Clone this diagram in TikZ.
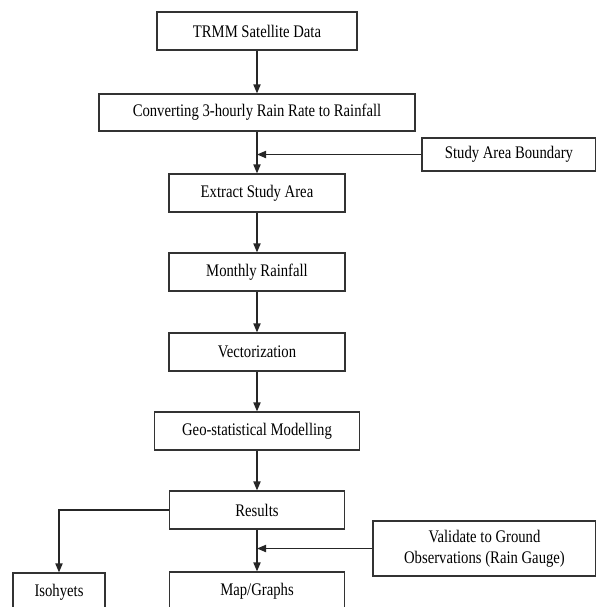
\documentclass[tikz,border=0pt]{standalone}
\usepackage{fontspec}
\setmainfont[FakeStretch=0.83]{Liberation Serif}
\usepackage{tikz}
\usetikzlibrary{arrows.meta, positioning, calc}
\tikzset{
  box/.style  = {draw=black!80, line width=0.6pt, align=center, inner sep=1pt,
                 minimum height=19pt, font=\fontsize{8.85}{10.5}\selectfont,
                 fill=white},
  sig/.style  = {-{Triangle[length=4.5pt, width=3.6pt]}, line width=0.65pt, draw=black!85},
}

\begin{document}
\begin{tikzpicture}[x=0.5pt, y=-0.5pt]
  \useasboundingbox (0,0) rectangle (596,607);
  \clip (0,0) rectangle (596,607);

  % main chain
  \node[box, minimum width=100pt] (trmm)  at (257,31)    {TRMM Satellite Data};
  \node[box, minimum width=158pt, minimum height=18.5pt] (conv) at (257,112.5)
        {Converting 3-hourly Rain Rate to Rainfall};
  \node[box, minimum width=88pt]  (ext)   at (257,193)   {Extract Study Area};
  \node[box, minimum width=88pt]  (month) at (257,272)   {Monthly Rainfall};
  \node[box, minimum width=88pt]  (vec)   at (257,352)   {Vectorization};
  \node[box, minimum width=102.5pt] (geo) at (257,431)   {Geo-statistical Modelling};
  \node[box, minimum width=87.5pt] (res)  at (257,510)   {Results};
  \node[box, minimum width=87.5pt] (map)  at (257,591)   {Map/Graphs};
  \node[box, minimum width=46pt]  (iso)   at (59,592)    {Isohyets};

  % side inputs
  \node[box, minimum width=87pt, minimum height=16.5pt] (sab) at (509,154.5)
        {Study Area Boundary};
  \node[box, minimum width=111.5pt, minimum height=27.5pt] (val) at (484.5,548.5)
        {Validate to Ground\\Observations (Rain Gauge)};

  \draw[sig] (trmm) -- (conv);
  \draw[sig] (conv) -- (ext);
  \draw[sig] (ext) -- (month);
  \draw[sig] (month) -- (vec);
  \draw[sig] (vec) -- (geo);
  \draw[sig] (geo) -- (res);
  \draw[sig] (res) -- (map);
  \draw[sig] (res.west) -| (iso.north);

  \coordinate (j1) at (conv.south |- sab.west);
  \coordinate (j2) at (res.south |- val.west);
  \draw[sig] (sab.west) -- (j1);
  \draw[sig] (val.west) -- (j2);
\end{tikzpicture}
\end{document}
